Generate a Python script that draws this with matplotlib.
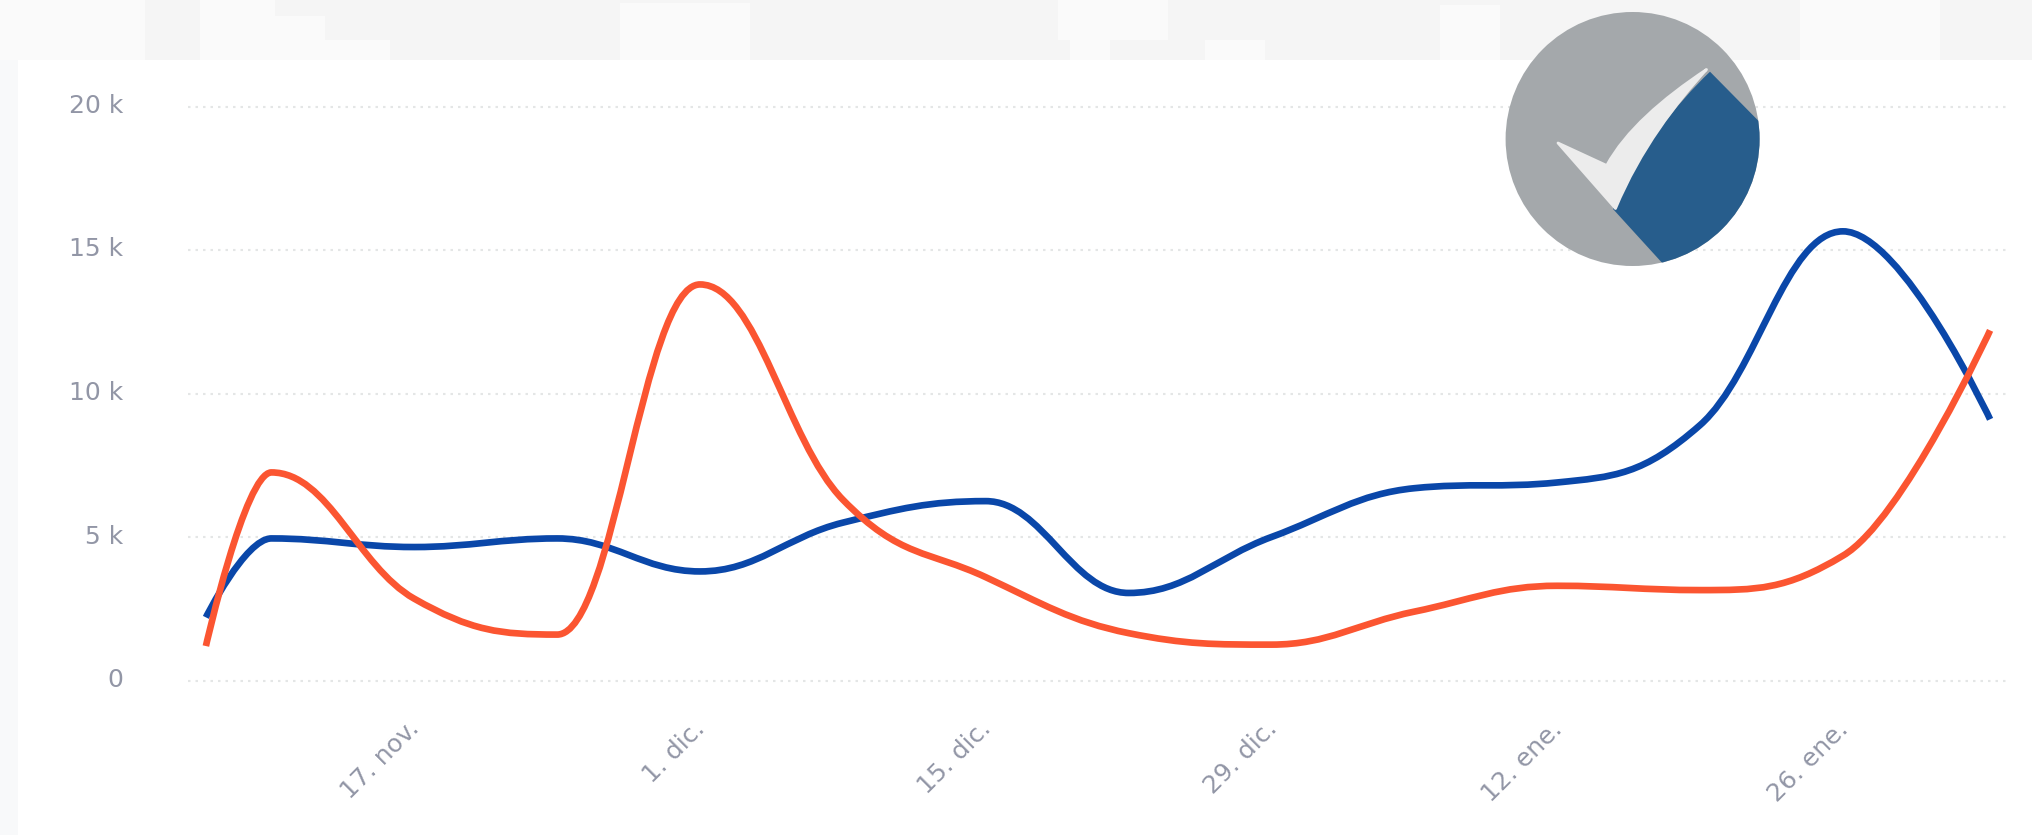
import matplotlib
matplotlib.use("Agg")
import matplotlib.pyplot as plt
import matplotlib.dates as mdates
import pandas as pd
from matplotlib.patches import Circle, PathPatch, Rectangle
from matplotlib.path import Path
from matplotlib.transforms import ScaledTranslation

# weekly points
dates = ["2019-11-06 19:00", "2019-11-10", "2019-11-17", "2019-11-24", "2019-12-01",
         "2019-12-08", "2019-12-15", "2019-12-22", "2019-12-29", "2020-01-05",
         "2020-01-12", "2020-01-19", "2020-01-26", "2020-02-02 05:00"]
blue_values = [2200, 4950, 4650, 4950, 3800, 5500, 6250, 3050, 5000, 6700, 6900, 8900, 15650, 9100]
red_values = [1200, 7250, 2850, 1600, 13800, 6300, 3600, 1650, 1250, 2400, 3300, 3150, 4350, 12200]

y_ticks = [0, 5000, 10000, 15000, 20000]
y_labels = ["0", "5 k", "10 k", "15 k", "20 k"]
x_ticks = ["2019-11-17", "2019-12-01", "2019-12-15", "2019-12-29", "2020-01-12", "2020-01-26"]
x_labels = ["17. nov.", "1. dic.", "15. dic.", "29. dic.", "12. ene.", "26. ene."]

W, H = 2032, 835
BLUE = "#0a47a9"
RED = "#fb5531"
TEXT = "#9296a6"
plt.rcParams["font.family"] = ["DejaVu Sans"]


def spline_path(xs, ys, smoothing=1.5):
    # same control points as a highcharts spline
    verts = [(xs[0], ys[0])]
    codes = [Path.MOVETO]
    right_prev = (xs[0], ys[0])
    d = smoothing + 1
    for i in range(1, len(xs)):
        x, y = xs[i], ys[i]
        if i < len(xs) - 1:
            lx = (smoothing * x + xs[i - 1]) / d
            ly = (smoothing * y + ys[i - 1]) / d
            rx = (smoothing * x + xs[i + 1]) / d
            ry = (smoothing * y + ys[i + 1]) / d
            corr = (ry - ly) * (rx - x) / (rx - lx) + y - ry
            ly += corr
            ry += corr
            if ly > ys[i - 1] and ly > y:
                ly = max(ys[i - 1], y)
                ry = 2 * y - ly
            elif ly < ys[i - 1] and ly < y:
                ly = min(ys[i - 1], y)
                ry = 2 * y - ly
            if ry > ys[i + 1] and ry > y:
                ry = max(ys[i + 1], y)
                ly = 2 * y - ry
            elif ry < ys[i + 1] and ry < y:
                ry = min(ys[i + 1], y)
                ly = 2 * y - ry
        else:
            lx, ly, rx, ry = x, y, x, y
        verts += [right_prev, (lx, ly), (x, y)]
        codes += [Path.CURVE4] * 3
        right_prev = (rx, ry)
    return Path(verts, codes)


fig = plt.figure(figsize=(W / 100, H / 100), dpi=100, facecolor="#f5f5f5")

# page background and white card behind the chart
bg = fig.add_axes([0, 0, 1, 1], zorder=0)
bg.set_xlim(0, W)
bg.set_ylim(H, 0)
bg.axis("off")
for x0, y0, w, h in [(0, 0, 145, 60), (200, 0, 75, 60), (275, 16, 50, 44), (325, 40, 65, 20),
                     (620, 3, 130, 57), (1058, 0, 110, 40), (1070, 0, 40, 60),
                     (1205, 40, 60, 20), (1440, 5, 60, 55), (1800, 0, 140, 60)]:
    bg.add_patch(Rectangle((x0, y0), w, h, color="#fafafa", lw=0))
bg.add_patch(Rectangle((0, 60), 18, H - 60, color="#f8f9fa", lw=0))
bg.add_patch(Rectangle((18, 60), W - 18, H - 60, color="white", lw=0))

left, right, top, bottom = 187.5, 2007, 106.5, 680.5
ax = fig.add_axes([left / W, 1 - bottom / H, (right - left) / W, (bottom - top) / H], zorder=1)
ax.patch.set_alpha(0)
for s in ax.spines.values():
    s.set_visible(False)

xs = list(mdates.date2num(pd.to_datetime(dates, format="ISO8601")))
dec1 = mdates.date2num(pd.Timestamp("2019-12-01"))
px_per_day = 20.41
ax.set_xlim(dec1 - (700 - left) / px_per_day, dec1 + (right - 700) / px_per_day)
ax.set_ylim(0, 20000)

ax.set_yticks(y_ticks)
ax.set_yticklabels(y_labels, fontsize=18, color=TEXT)
ax.set_xticks(list(mdates.date2num(pd.to_datetime(x_ticks))))
ax.set_xticklabels(x_labels, fontsize=18, color=TEXT, rotation=45, ha="right", rotation_mode="anchor")
ax.tick_params(axis="both", length=0)
ax.tick_params(axis="x", pad=26)
ax.tick_params(axis="y", pad=46)
for lab in ax.get_yticklabels():
    lab.set_transform(lab.get_transform() + ScaledTranslation(0, 3 / 100, fig.dpi_scale_trans))
for lab in ax.get_xticklabels():
    lab.set_transform(lab.get_transform() + ScaledTranslation(-7 / 100, 0, fig.dpi_scale_trans))
ax.grid(axis="y", color="#e4e6e6", lw=1.5, linestyle=(0, (1.2, 2.4)), clip_on=False)
ax.set_axisbelow(True)

for vals, col in [(blue_values, BLUE), (red_values, RED)]:
    ax.add_patch(PathPatch(spline_path(xs, vals), fc="none", ec=col, lw=4.8,
                           capstyle="butt", joinstyle="round", clip_on=False))

# logo on top
logo = fig.add_axes([0, 0, 1, 1], zorder=2)
logo.set_xlim(0, W)
logo.set_ylim(H, 0)
logo.axis("off")
logo.patch.set_alpha(0)
circle = Circle((1632.6, 139), 127, color="#a4a8ab", lw=0)
logo.add_patch(circle)
blue_part = PathPatch(Path(
    [(1710, 71.7), (1800, 163), (1800, 320), (1716, 322), (1613, 209),
     (1640, 150), (1676, 104), (1710, 71.7), (1710, 71.7)],
    [Path.MOVETO, Path.LINETO, Path.LINETO, Path.LINETO, Path.LINETO,
     Path.CURVE4, Path.CURVE4, Path.CURVE4, Path.CLOSEPOLY]), fc="#275d8c", lw=0)
logo.add_patch(blue_part)
blue_part.set_clip_path(circle)
check = PathPatch(Path(
    [(1558, 143), (1606.7, 165.5), (1625.5, 131), (1662, 99), (1706.5, 69.5),
     (1676, 103), (1640, 149.5), (1615.5, 208.5), (1558, 143)],
    [Path.MOVETO, Path.LINETO, Path.CURVE4, Path.CURVE4, Path.CURVE4,
     Path.CURVE4, Path.CURVE4, Path.CURVE4, Path.CLOSEPOLY]),
    fc="#ececec", ec="#ececec", lw=2, joinstyle="round")
logo.add_patch(check)

fig.savefig("out.png", dpi=100, facecolor=fig.get_facecolor())
